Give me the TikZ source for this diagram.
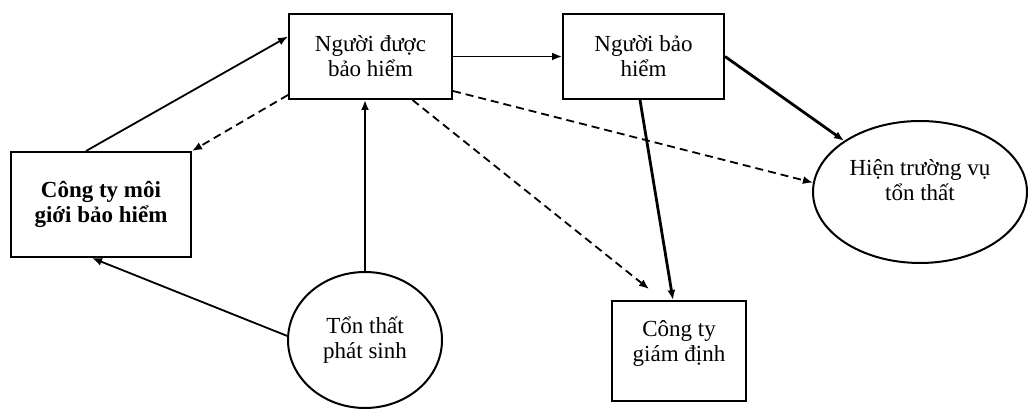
\documentclass[tikz,border=0pt]{standalone}
\usepackage{fontspec}
\setmainfont{Liberation Serif}
\usepackage{tikz}
\usetikzlibrary{arrows.meta,shapes.geometric}
\tikzset{
  ar/.style={-{Latex[length=5pt,width=4pt]},line width=0.9pt},
  art/.style={ar,line width=1.4pt},
  ard/.style={ar,dash pattern=on 4pt off 2.5pt},
  box/.style={draw,line width=1pt,align=center,inner sep=2pt,fill=white,font=\fontsize{11.5}{12.5}\selectfont},
  oval/.style={box,ellipse,inner sep=0pt}
}
\begin{document}
\begin{tikzpicture}[x=0.5pt,y=-0.5pt]
\useasboundingbox (0,0) rectangle (1028,410);
% nodes
\node[box,minimum width=81.5pt,minimum height=42.5pt] (ndbh) at (370.5,56.5) {Người được\\bảo hiểm};
\node[box,minimum width=80.5pt,minimum height=42.5pt] (nbh) at (643.5,56.5) {Người bảo\\hiểm};
\node[box,minimum width=90pt,minimum height=52.5pt,font=\fontsize{11.5}{12.5}\selectfont\bfseries] (broker) at (101,204.5) {Công ty môi\\giới bảo hiểm};
\node[oval,minimum width=107pt,minimum height=71pt,text depth=11.5pt] (hien) at (920,192) {Hiện trường vụ\\tổn thất};
\node[oval,minimum width=77pt,minimum height=68pt] (ton) at (365,340) {Tổn thất\\phát sinh};
\node[box,minimum width=67pt,minimum height=50pt,text depth=9.5pt] (giam) at (679,351) {Công ty\\giám định};
% connectors
\draw[ar] ([xshift=-7.5pt]broker.north) -- ([yshift=10pt]ndbh.west);
\draw[ard] ([yshift=2.5pt]ndbh.south west) -- (broker.north east);
\draw[ar] (ndbh.east) -- (nbh.west);
\draw[art] (ton.north) -- (ton.north |- ndbh.south);
\draw[ar] (ton.177) -- ([xshift=-4.5pt]broker.south);
\draw[ard] ([yshift=4.5pt]ndbh.south east) -- (hien.175);
\draw[ard] ([xshift=21pt]ndbh.south) -- ([xshift=19pt,yshift=5.5pt]giam.north west);
\draw[art] ([xshift=-1.75pt]nbh.south) -- ([xshift=-3pt]giam.north);
\draw[art] (nbh.east) -- (hien.146);
\end{tikzpicture}
\end{document}
